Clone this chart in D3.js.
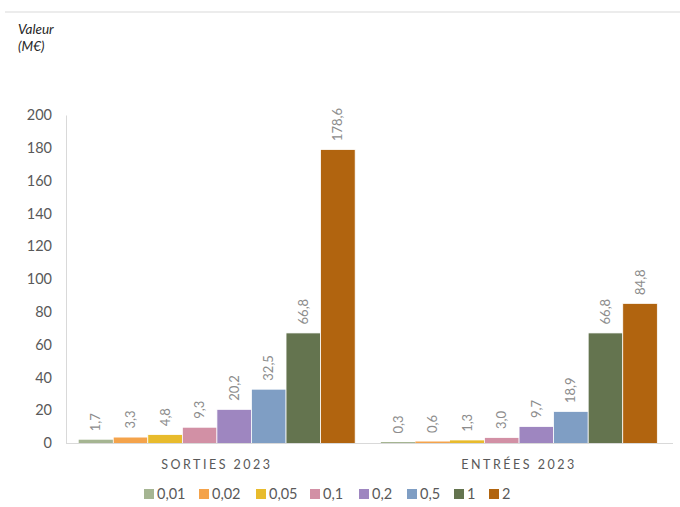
<!DOCTYPE html>
<html>
<head>
<meta charset="utf-8">
<script src="https://cdn.jsdelivr.net/npm/d3@7"></script>
<style>
  body { margin: 0; background: #fff; }
  svg { font-family: Lato, "Open Sans", sans-serif; }
</style>
</head>
<body>
<div id="chart"></div>
<script>
// categories and series
const categories = ['SORTIES 2023', 'ENTRÉES 2023'];
const seriesNames = ['0,01', '0,02', '0,05', '0,1', '0,2', '0,5', '1', '2'];
const seriesColors = ['#a5b592', '#f4a34b', '#e8bb2c', '#d290a5', '#9e86c0', '#7f9ec4', '#64744f', '#b1640f'];
const sortiesValues = [1.7, 3.3, 4.8, 9.3, 20.2, 32.5, 66.8, 178.6];
const entreesValues = [0.3, 0.6, 1.3, 3.0, 9.7, 18.9, 66.8, 84.8];
const yTicks = [0, 20, 40, 60, 80, 100, 120, 140, 160, 180, 200];

const valuesByCat = [sortiesValues, entreesValues];

const w = 680, h = 507;
const plotLeft = 66, plotRight = 670, plotTop = 115, plotBottom = 443;

const svg = d3.select('#chart').append('svg')
  .attr('width', w).attr('height', h);

// top separator line (chart sits under a title)
svg.append('line')
  .attr('x1', 5).attr('x2', w).attr('y1', 12).attr('y2', 12)
  .attr('stroke', '#d9d9d9').attr('stroke-width', 1);

// axis title
svg.append('text').attr('x', 18).attr('y', 34)
  .attr('font-style', 'italic').attr('font-size', 13.5).attr('fill', '#262626')
  .text('Valeur');
svg.append('text').attr('x', 18).attr('y', 51)
  .attr('font-style', 'italic').attr('font-size', 13.5).attr('fill', '#262626')
  .text('(M€)');

const yScale = d3.scaleLinear().domain([0, 200]).range([plotBottom, plotTop]);
const x0 = d3.scaleBand().domain(categories).range([plotLeft, plotRight]).paddingInner(0.085).paddingOuter(0.042);
const x1 = d3.scaleBand().domain(seriesNames).range([0, x0.bandwidth()]);

// y axis
const yAxis = d3.axisLeft(yScale).tickValues(yTicks).tickSize(0).tickPadding(14);
const gy = svg.append('g').attr('transform', 'translate(' + plotLeft + ',0)').call(yAxis);
gy.select('.domain').attr('stroke', '#d9d9d9');
gy.selectAll('text').attr('font-size', 14.5).attr('fill', '#595959')
  .attr('font-family', 'Lato, "Open Sans", sans-serif');

// bars
const groups = svg.selectAll('.cat')
  .data(categories)
  .enter().append('g')
  .attr('class', 'cat')
  .attr('transform', d => 'translate(' + x0(d) + ',0)');

groups.each(function(cat, ci) {
  const g = d3.select(this);
  const rows = seriesNames.map((s, i) => ({ s: s, v: valuesByCat[ci][i], c: seriesColors[i] }));
  g.selectAll('rect')
    .data(rows)
    .enter().append('rect')
    .attr('x', d => x1(d.s))
    .attr('y', d => yScale(d.v) - 0.5)
    .attr('width', x1.bandwidth())
    .attr('height', d => plotBottom - yScale(d.v) + 1)
    .attr('fill', d => d.c)
    .attr('stroke', d => (plotBottom - yScale(d.v)) > 3 ? '#fff' : 'none')
    .attr('stroke-width', 0.75);

  g.selectAll('.lbl')
    .data(rows)
    .enter().append('text')
    .attr('class', 'lbl')
    .attr('transform', d => 'translate(' + (x1(d.s) + x1.bandwidth() / 2 + 4.5) + ',' + (yScale(d.v) - 9) + ') rotate(-90)')
    .attr('font-size', 13)
    .attr('fill', '#8c8c8c')
    .text(d => d.v.toFixed(1).replace('.', ','));
});

// baseline
svg.append('line')
  .attr('x1', plotLeft).attr('x2', plotRight + 3).attr('y1', plotBottom + 0.5).attr('y2', plotBottom + 0.5)
  .attr('stroke', '#d9d9d9');

// category labels
svg.selectAll('.catlbl')
  .data(categories)
  .enter().append('text')
  .attr('class', 'catlbl')
  .attr('x', d => x0(d) + x0.bandwidth() / 2)
  .attr('y', 469)
  .attr('text-anchor', 'middle')
  .attr('font-size', 12.5)
  .attr('letter-spacing', 2.5)
  .attr('fill', '#595959')
  .text(d => d);

// legend
const legendX = [144, 199, 256, 310, 359, 407, 454, 489];
const legend = svg.selectAll('.leg')
  .data(seriesNames)
  .enter().append('g')
  .attr('class', 'leg')
  .attr('transform', (d, i) => 'translate(' + legendX[i] + ',489)');
legend.append('rect')
  .attr('width', 10).attr('height', 10)
  .attr('fill', (d, i) => seriesColors[i]);
legend.append('text')
  .attr('x', 13).attr('y', 10)
  .attr('font-size', 14.5).attr('fill', '#595959')
  .text(d => d);
</script>
</body>
</html>
